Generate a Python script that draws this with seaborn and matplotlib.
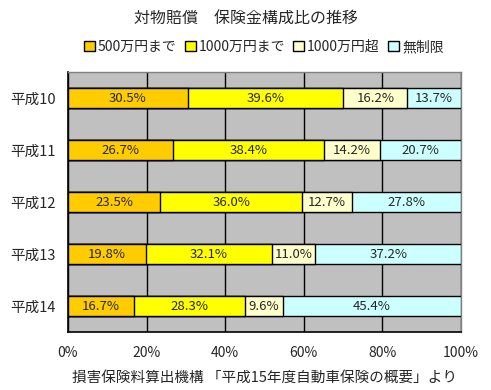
import numpy as np
import pandas as pd
import matplotlib
matplotlib.use("Agg")
import matplotlib.pyplot as plt
import seaborn as sns
from matplotlib.patches import Patch

years = ["平成10", "平成11", "平成12", "平成13", "平成14"]
series = ["500万円まで", "1000万円まで", "1000万円超", "無制限"]
upto500 = [30.5, 26.7, 23.5, 19.8, 16.7]
upto1000 = [39.6, 38.4, 36.0, 32.1, 28.3]
over1000 = [16.2, 14.2, 12.7, 11.0, 9.6]
unlimited = [13.7, 20.7, 27.8, 37.2, 45.4]
colors = ["#FFCC00", "#FFFF00", "#FFFFCC", "#CCFFFF"]

sns.set_style("white")
plt.rcParams['font.family'] = ['Noto Sans CJK JP', 'DejaVu Sans']

df = pd.DataFrame({"year": years, series[0]: upto500, series[1]: upto1000,
                   series[2]: over1000, series[3]: unlimited})
vals = df[series].to_numpy()
cum = vals.cumsum(axis=1)

fig = plt.figure(figsize=(4.91, 3.90), dpi=100)
ax = fig.add_axes([68 / 491, 1 - 332 / 390, 393 / 491, 260 / 390])
ax.set_facecolor("#C0C0C0")

# draw cumulative bars from the widest to the narrowest
for i in range(3, -1, -1):
    sns.barplot(x=cum[:, i], y=df["year"], orient="h", color=colors[i],
                edgecolor="black", linewidth=1, width=0.38, ax=ax,
                saturation=1, zorder=3)

for r in range(len(years)):
    for i in range(4):
        left = cum[r, i] - vals[r, i]
        ax.text(left + vals[r, i] / 2, r, f"{vals[r, i]:.1f}%", ha="center",
                va="center", fontsize=9.5, zorder=4)

ax.set_xlim(0, 100)
ax.set_ylim(4.5, -0.5)
ax.set_xticks([0, 20, 40, 60, 80, 100])
ax.set_xticklabels(["0%", "20%", "40%", "60%", "80%", "100%"], fontsize=10)
ax.tick_params(axis="x", length=0, pad=10)
ax.set_yticks(range(len(years)))
ax.set_yticklabels(years, fontsize=10.5)
ax.set_yticks(np.arange(-0.5, 5, 1), minor=True)
ax.tick_params(axis="y", which="major", length=0, pad=9)
ax.tick_params(axis="y", which="minor", length=4, width=1, color="black", direction="out")
ax.grid(axis="x", color="black", linewidth=1, zorder=1)
ax.set_axisbelow(True)
ax.set_ylabel("")
ax.set_xlabel("損害保険料算出機構 「平成15年度自動車保険の概要」より", fontsize=10.5, labelpad=8)

for s in ["left", "bottom"]:
    ax.spines[s].set_color("black")
    ax.spines[s].set_linewidth(1.2)
for s in ["top", "right"]:
    ax.spines[s].set_color("#808080")
    ax.spines[s].set_linewidth(1)

handles = [Patch(facecolor=c, edgecolor="black", label=s) for c, s in zip(colors, series)]
fig.legend(handles=handles, loc="center", bbox_to_anchor=(0.537, 1 - 47 / 390),
           ncol=4, frameon=False, fontsize=10, handlelength=0.8, handleheight=0.8,
           handletextpad=0.2, columnspacing=0.6)
fig.suptitle("対物賠償　保険金構成比の推移", y=1 - 18 / 390, va="center", fontsize=11.5)

fig.savefig("out.png", dpi=100)
